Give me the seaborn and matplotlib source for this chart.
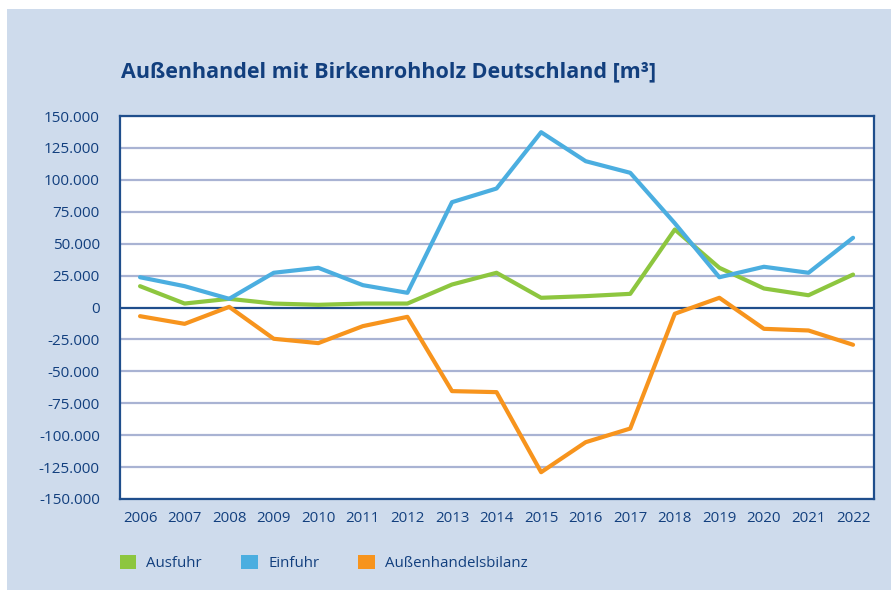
"""
Außenhandel mit Birkenrohholz Deutschland - line chart recreation.
"""

import matplotlib
matplotlib.use('Agg')
import matplotlib.pyplot as plt
from matplotlib.patches import Rectangle, Patch
from matplotlib.ticker import FuncFormatter
import seaborn as sns
import pandas as pd

# ----------------------------------------------- DATA ----------------------------------------------- #

years = list(range(2006, 2023))
ausfuhr = [16700, 3100, 6800, 3100, 2100, 3100, 3100, 18000, 27200,
           7600, 8900, 10700, 61100, 31100, 14900, 9600, 25800]
einfuhr = [23700, 16700, 6800, 27200, 31100, 17500, 11500, 82500, 93200,
           137300, 114600, 105500, 66000, 23700, 31900, 27200, 54600]
bilanz = [-6800, -12800, 500, -24500, -27900, -14600, -7300, -65500, -66300,
          -129000, -105500, -94800, -4900, 7600, -16700, -18000, -29200]
series_names = ['Ausfuhr', 'Einfuhr', 'Außenhandelsbilanz']
y_ticks = list(range(-150000, 150001, 25000))

# ---------------------------------------------- STYLE ----------------------------------------------- #

colors = ['#8DC63F', '#4BAEE0', '#F7941D']
panel_bg = '#CEDBEC'
text_col = '#123F7E'
spine_col = '#1F4E8C'
grid_col = '#A9B3D3'

sns.set_style('white')
plt.rcParams['font.family'] = ['Open Sans', 'DejaVu Sans']

df = pd.DataFrame({
    'Jahr': years * 3,
    'Wert': ausfuhr + einfuhr + bilanz,
    'Serie': [s for s in series_names for _ in years],
})

# ---------------------------------------------- FIGURE ---------------------------------------------- #

fig = plt.figure(figsize=(8.91, 5.90), dpi=100, facecolor='white')
fig.patches.append(Rectangle((7 / 891, 0), 1, 1 - 9 / 590, transform=fig.transFigure,
                             facecolor=panel_bg, edgecolor='none', zorder=-10))

ax = fig.add_axes([120 / 891, 1 - 499 / 590, 754 / 891, 383 / 590])
ax.set_facecolor('white')

for y in y_ticks:
    if y != 0:
        ax.axhline(y, color=grid_col, linewidth=1.6, zorder=1)
ax.axhline(0, color=spine_col, linewidth=1.6, zorder=2)

sns.lineplot(data=df, x='Jahr', y='Wert', hue='Serie', hue_order=series_names,
             palette=colors, linewidth=3.0, legend=False, ax=ax, zorder=3)

ax.set_xlim(2005.55, 2022.47)
ax.set_ylim(-150000, 150000)
ax.set_xticks(years)
ax.set_xticklabels([str(y) for y in years])
ax.set_yticks(y_ticks)
ax.yaxis.set_major_formatter(FuncFormatter(lambda v, p: f'{v:,.0f}'.replace(',', '.')))
ax.set_xlabel('')
ax.set_ylabel('')

for s in ax.spines.values():
    s.set_color(spine_col)
    s.set_linewidth(1.6)

ax.tick_params(axis='y', length=6.5, width=1.6, color=spine_col, labelcolor=text_col,
               labelsize=11, pad=8)
ax.tick_params(axis='x', length=0, labelcolor=text_col, labelsize=10.8, pad=9)

fig.text(121 / 891, 1 - 72 / 590, 'Außenhandel mit Birkenrohholz Deutschland [m³]',
         fontsize=15.5, fontweight='bold', color=text_col, va='center', ha='left')

handles = [Patch(facecolor=c, edgecolor='none') for c in colors]
fig.legend(handles, series_names, loc='center left', bbox_to_anchor=(106 / 891, 1 - 563 / 590),
           ncol=3, frameon=False, fontsize=10.8, labelcolor=text_col,
           handlelength=1.1, handleheight=1.1, handletextpad=0.7, columnspacing=2.6)

fig.savefig('out.png', dpi=100, facecolor=fig.get_facecolor())
